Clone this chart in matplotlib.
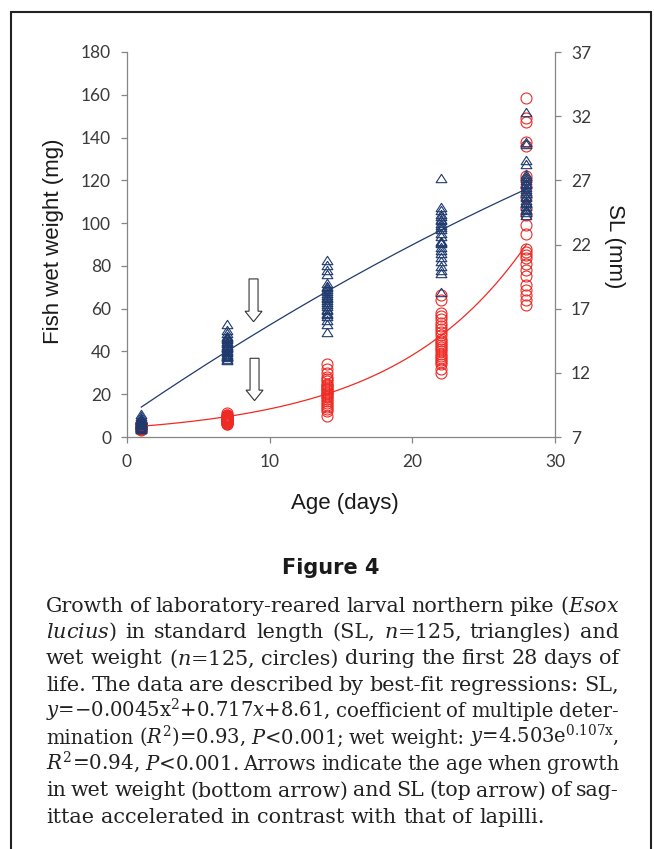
import numpy as np
import matplotlib
matplotlib.use('Agg')
from matplotlib import pyplot as plt
from matplotlib.patches import FancyArrow, Rectangle
from matplotlib.path import Path

plt.rcParams['font.family'] = ['Lato', 'DejaVu Sans']
plt.rcParams['mathtext.fontset'] = 'dejavuserif'

# ages sampled (days)
ages = [1, 7, 14, 22, 28]

# standard length (mm), triangles, right axis
sl_by_age = [
    [8.8, 8.6, 8.5, 8.4, 8.3, 8.2, 8.1, 8.0, 8.0, 7.9, 7.9, 7.8, 7.8,
     7.7, 7.7, 7.6, 7.6, 8.1, 8.2, 8.3, 7.9, 8.0, 7.8, 7.7, 8.4],
    [15.8, 15.3, 15.1, 14.9, 14.8, 14.7, 14.6, 14.5, 14.4, 14.3, 14.2, 14.1, 14.0,
     13.9, 13.8, 13.7, 13.6, 13.5, 13.4, 13.3, 13.2, 13.1, 13.0, 13.3, 14.0],
    [20.8, 20.4, 20.0, 19.7, 19.0, 18.8, 18.7, 18.5, 18.4, 18.2, 18.1, 17.9, 17.8,
     17.7, 17.5, 17.4, 17.2, 17.0, 16.9, 16.7, 16.6, 16.4, 16.1, 15.8, 15.2],
    [27.2, 24.9, 24.7, 24.4, 24.2, 24.0, 23.9, 23.7, 23.5, 23.4, 23.2, 22.9, 22.7,
     22.3, 22.2, 22.1, 21.8, 21.6, 21.3, 21.0, 20.7, 20.3, 20.0, 19.8, 18.3],
    [32.3, 30.0, 29.8, 28.6, 28.3, 27.5, 27.3, 27.2, 27.0, 26.8, 26.7, 26.5, 26.3,
     26.2, 26.0, 25.8, 25.7, 25.5, 25.3, 25.2, 25.0, 24.8, 24.7, 24.5, 24.3],
]

# wet weight (mg), circles, left axis
weight_by_age = [
    [3.5, 4.0, 4.5, 5.0, 5.5, 6.0, 6.5, 4.2, 4.8, 5.2, 5.8, 4.4, 4.6, 5.4,
     5.6, 3.8, 6.2, 4.9, 5.1, 4.3, 5.3, 4.7, 5.7, 3.9, 6.1],
    [11.0, 10.5, 10.0, 10.0, 9.5, 9.5, 9.0, 9.0, 8.5, 8.5, 8.0, 8.0, 7.5, 7.5,
     7.0, 7.0, 6.5, 6.5, 6.0, 6.0, 8.8, 9.2, 7.8, 8.2, 10.2],
    [34, 32, 30, 28, 27, 26, 25, 24.5, 24, 23, 22.5, 22, 21, 20.5, 20, 19, 18.5,
     18, 17, 16, 15, 14, 13, 12, 10],
    [66.5, 64, 58, 56.5, 55, 53.5, 52, 50.5, 49, 47.5, 46, 45, 44, 43, 42, 41,
     40, 39, 38, 37, 36, 35, 34, 32, 30],
    [158.5, 149, 147.5, 138, 136, 122, 120, 117, 112, 107, 104, 99, 95, 88, 86.5,
     85, 83.5, 81, 78, 75.5, 71, 68.5, 66.5, 64, 61.5],
]

# regression fits as drawn
sl_fit = [-0.0045, 0.76, 8.575]      # quadratic a, b, c
wt_fit = [4.503, 0.107]              # y = A * exp(k x)

xticks = [0, 10, 20, 30]
left_ticks = list(range(0, 181, 20))
right_ticks = [7, 12, 17, 22, 27, 32, 37]

caption = [
    r"Growth of laboratory-reared larval northern pike ($\mathit{Esox}$",
    r"$\mathit{lucius}$) in standard length (SL, $\mathit{n}$=125, triangles) and",
    r"wet weight ($\mathit{n}$=125, circles) during the first 28 days of",
    r"life. The data are described by best-fit regressions: SL,",
    r"$\mathit{y}$=−0.0045x$^2$+0.717$\mathit{x}$+8.61, coefficient of multiple deter-",
    r"mination ($\mathit{R}^2$)=0.93, $\mathit{P}$<0.001; wet weight: $\mathit{y}$=4.503e$^{0.107\mathrm{x}}$,",
    r"$\mathit{R}^2$=0.94, $\mathit{P}$<0.001. Arrows indicate the age when growth",
    r"in wet weight (bottom arrow) and SL (top arrow) of sag-",
    r"ittae accelerated in contrast with that of lapilli.",
]

W, H = 654, 849
navy = '#1f3a6e'
red = '#ee2a24'
spine_c = '#868686'
tick_c = '#3a3a3a'

fig = plt.figure(figsize=(W / 100, H / 100), dpi=100)
ax = fig.add_axes([127 / W, (H - 437) / H, 428 / W, 385 / H])
ax2 = ax.twinx()

tri = Path([(0, 0.78), (-1, -0.78), (1, -0.78), (0, 0.78)],
           [Path.MOVETO, Path.LINETO, Path.LINETO, Path.CLOSEPOLY])

for a, vals in zip(ages, weight_by_age):
    ax.plot(np.full(len(vals), a), vals, 'o', ms=7.9, mfc='none', mec=red, mew=0.8)
for a, vals in zip(ages, sl_by_age):
    ax2.plot(np.full(len(vals), a), vals, linestyle='none', marker=tri, ms=7.7,
             mfc='none', mec=navy, mew=0.8)

xs = np.linspace(ages[0], ages[-1], 200)
ax.plot(xs, wt_fit[0] * np.exp(wt_fit[1] * xs), color=red, lw=0.9)
ax2.plot(xs, sl_fit[0] * xs ** 2 + sl_fit[1] * xs + sl_fit[2], color=navy, lw=0.9)

# open arrows
for xa, ytop, ytip in [(8.87, 73.9, 53.9), (8.94, 36.8, 17.0)]:
    ax.add_patch(FancyArrow(xa, ytop, 0, ytip - ytop, width=0.63, head_width=1.19,
                            head_length=4.9, length_includes_head=True,
                            fc='white', ec='#333333', lw=0.8, zorder=5))

ax.set_xlim(0, 30)
ax.set_ylim(0, 180)
ax2.set_ylim(7, 37)
ax.set_xticks(xticks)
ax.set_yticks(left_ticks)
ax2.set_yticks(right_ticks)

for a in (ax, ax2):
    a.spines['top'].set_visible(False)
    for s in a.spines.values():
        s.set_color(spine_c)
        s.set_linewidth(0.9)
    a.tick_params(direction='out', length=4.5, width=0.9, color=spine_c,
                  labelsize=12.5, labelcolor=tick_c)
ax.spines['right'].set_visible(False)
ax2.spines['left'].set_visible(False)
ax2.spines['bottom'].set_visible(False)
ax.tick_params(axis='y', pad=7)
ax.tick_params(axis='x', pad=8)
ax2.tick_params(axis='y', pad=7)

lab = dict(family='Liberation Sans', fontsize=16, color='#1a1a1a',
           ha='center', va='center')
fig.text(54 / W, 1 - 241 / H, 'Fish wet weight (mg)', rotation=90, **lab)
fig.text(615 / W, 1 - 246 / H, 'SL (mm)', rotation=270, **lab)
fig.text(345 / W, 1 - 504 / H, 'Age (days)', **lab)

fig.text(331 / W, 1 - 568 / H, 'Figure 4', family='DejaVu Sans', weight='bold',
         fontsize=15, color='#1a1a1a', ha='center', va='center')

# border box
fig.add_artist(Rectangle((11 / W, -0.02), 640 / W, 1.02 - 12 / H,
                         transform=fig.transFigure, fill=False,
                         ec='#222222', lw=1.5))

# justified caption
renderer = fig.canvas.get_renderer()
cap_font = dict(family='DejaVu Serif', color='#222222', va='baseline', ha='left')
probe = fig.text(0, 0, caption[-1], fontsize=13, **cap_font)
fs0 = 13 * 498 / probe.get_window_extent(renderer).width
probe.remove()

x0, x1 = 46, 619
for i, line in enumerate(caption):
    yb = 1 - (611.5 + 26.4 * i) / H
    words = line.split(' ')
    fs = fs0
    texts = [fig.text(0, yb, w, fontsize=fs, **cap_font) for w in words]
    widths = [t.get_window_extent(renderer).width for t in texts]
    space = fs * 0.318 * 100 / 72
    if i < len(caption) - 1:
        gap = (x1 - x0 - sum(widths)) / (len(words) - 1)
        if gap < 0.8 * space:
            # line too long for the column: shrink its type a little
            k = (x1 - x0 - 0.8 * space * (len(words) - 1)) / sum(widths)
            fs = fs0 * k
            for t in texts:
                t.set_fontsize(fs)
            widths = [t.get_window_extent(renderer).width for t in texts]
            gap = (x1 - x0 - sum(widths)) / (len(words) - 1)
        space = gap
    x = x0
    for t, w in zip(texts, widths):
        t.set_x(x / W)
        x += w + space

fig.savefig('out.png', dpi=100)
